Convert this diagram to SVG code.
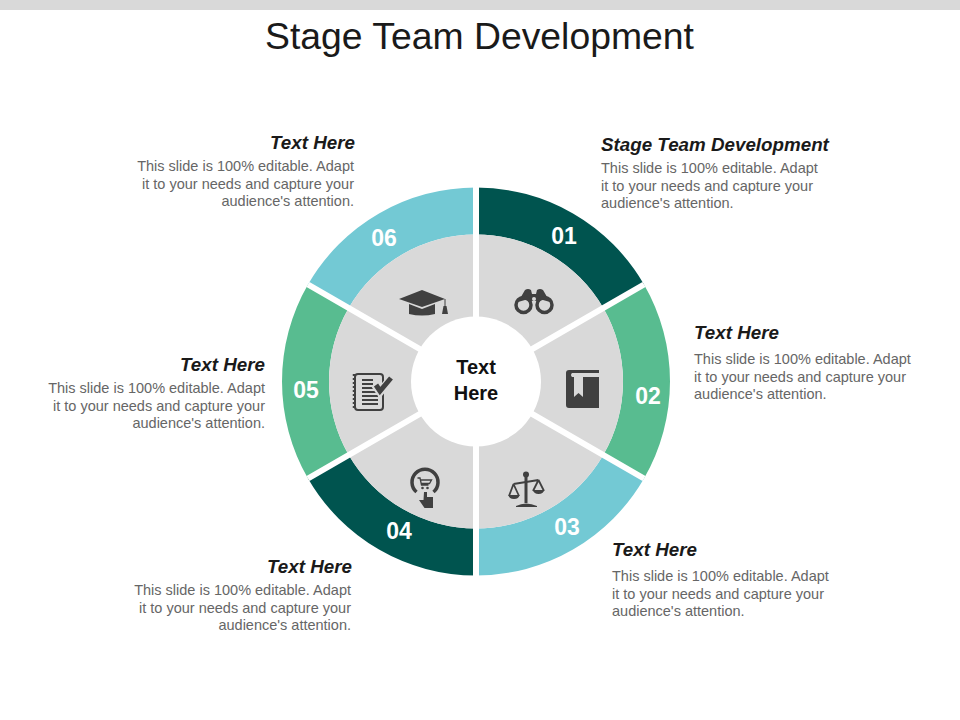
<svg xmlns="http://www.w3.org/2000/svg" width="960" height="720" viewBox="0 0 960 720">
<style>
text{font-family:"Liberation Sans",Arial,sans-serif}
.h{font-size:18.800px;font-weight:bold;font-style:italic;fill:#1a1a1a}
.b{font-size:14.500px;fill:#666}
.n{font-size:23px;font-weight:bold;fill:#fff;text-anchor:middle}
.c{font-size:20px;font-weight:bold;fill:#111;text-anchor:middle}
.e{text-anchor:end}
.g{fill:#d9d9d9}
.i{fill:#404040}
.s{fill:none;stroke:#404040}
.d1{fill:#00544f}.d2{fill:#58bc90}.d3{fill:#73c9d4}
</style>
<rect width="960" height="10" fill="#d9d9d9"/>
<text id="title" x="479.500" y="49" font-size="37.350" text-anchor="middle" fill="#1a1a1a">Stage Team Development</text>

<g id="node-01">
<path class="d1" d="M476 187.500A194 194 0 0 1 644 284.500L603.300 308A147 147 0 0 0 476 234.500Z"/>
<path class="g" d="M476 234.500A147 147 0 0 1 603.300 308L476 381.500Z"/>
<text class="n" x="564" y="244">01</text>
<g transform="translate(534 302)">
<path class="i" d="M-16 0L-9 -12Q-6 -14 -3 -12L-2 -8H2L3 -12Q6 -14 9 -12L16 0L9 -2L2 -1H-2L-9 -2Z"/>
<circle class="s" cx="-10.500" cy="3" r="7.500" stroke-width="3.500" fill="#d9d9d9"/><circle class="s" cx="10.500" cy="3" r="7.500" stroke-width="3.500" fill="#d9d9d9"/>
<circle cx="0" cy="-3" r="2" fill="#d9d9d9"/>
</g>
<text class="h" x="601" y="151">Stage Team Development</text>
<text class="b" x="601" y="173">This slide is 100% editable. Adapt</text>
<text class="b" x="601" y="190.500">it to your needs and capture your</text>
<text class="b" x="601" y="208">audience's attention.</text>
</g>

<g id="node-02">
<path class="d2" d="M644 284.500A194 194 0 0 1 644 478.500L603.300 455A147 147 0 0 0 603.300 308Z"/>
<path class="g" d="M603.300 308A147 147 0 0 1 603.300 455L476 381.500Z"/>
<text class="n" x="648" y="404">02</text>
<path class="i" fill-rule="evenodd" d="M569 370H599V408H569Q566 408 566 405V373Q566 370 569 370ZM572 373Q570 375 572 377H574V397L578.500 393L583 397V377H599V373Z"/>
<text class="h" x="694" y="339">Text Here</text>
<text class="b" x="694" y="364">This slide is 100% editable. Adapt</text>
<text class="b" x="694" y="382">it to your needs and capture your</text>
<text class="b" x="694" y="399">audience's attention.</text>
</g>

<g id="node-03">
<path class="d3" d="M644 478.500A194 194 0 0 1 476 575.500L476 528.500A147 147 0 0 0 603.300 455Z"/>
<path class="g" d="M603.300 455A147 147 0 0 1 476 528.500L476 381.500Z"/>
<text class="n" x="567" y="535">03</text>
<g transform="translate(526 490)">
<circle class="i" cx="0" cy="-15.500" r="3"/>
<path class="s" stroke-width="1.800" d="M-12.500 -6L12.500 -10M-12.500 -6L-17 6M-12.500 -6L-7 6M12.500 -10L7 1M12.500 -10L18 1"/>
<path class="i" d="M-1.500 -13H1.500V13H-1.500ZM-10 16Q0 11 11 16V17H-10ZM-17.500 5H-6.500Q-7 9 -12 9Q-17 9 -17.500 5ZM7 0H18Q17.500 4 12.500 4Q8 4 7 0Z"/>
</g>
<text class="h" x="612" y="556">Text Here</text>
<text class="b" x="612" y="581">This slide is 100% editable. Adapt</text>
<text class="b" x="612" y="599">it to your needs and capture your</text>
<text class="b" x="612" y="616">audience's attention.</text>
</g>

<g id="node-04">
<path class="d1" d="M476 575.500A194 194 0 0 1 308 478.500L348.700 455A147 147 0 0 0 476 528.500Z"/>
<path class="g" d="M476 528.500A147 147 0 0 1 348.700 455L476 381.500Z"/>
<text class="n" x="399" y="539">04</text>
<g transform="translate(424.500 482)">
<path class="s" stroke-width="3.500" d="M-8 10A13 13 0 1 1 9 10"/>
<path class="s" stroke-width="1.300" d="M-7 -4H-4.500L-3 3H4M-4 -2H7L5 1.500H-3"/>
<circle class="i" cx="-2" cy="6" r="1.300"/><circle class="i" cx="3" cy="6" r="1.300"/>
<path class="i" d="M-0.500 10H2.500V15H8.500V26H0L-5.500 18L-1 18Z"/>
</g>
<text class="h e" x="352" y="573">Text Here</text>
<text class="b e" x="351" y="595">This slide is 100% editable. Adapt</text>
<text class="b e" x="351" y="613">it to your needs and capture your</text>
<text class="b e" x="351" y="630">audience's attention.</text>
</g>

<g id="node-05">
<path class="d2" d="M308 478.500A194 194 0 0 1 308 284.500L348.700 308A147 147 0 0 0 348.700 455Z"/>
<path class="g" d="M348.700 455A147 147 0 0 1 348.700 308L476 381.500Z"/>
<text class="n" x="306" y="398">05</text>
<g transform="translate(370 392)">
<rect class="s" x="-15" y="-18" width="28" height="36" rx="3" stroke-width="2"/>
<path class="s" stroke-width="1.800" d="M-8 -12H3M-8 -8H3M-8 -4H3M-8 0H7M-8 4H8M-8 8H8M-8 12H8"/>
<path class="s" stroke-width="2.500" stroke-dasharray="2 2" d="M-16 -18V18"/>
<path fill="none" stroke="#d9d9d9" stroke-width="8" d="M5 -7L10 0L22 -15"/>
<path class="s" stroke-width="5" d="M6 -7L10 -1L21 -14"/>
</g>
<text class="h e" x="265" y="371">Text Here</text>
<text class="b e" x="265" y="393">This slide is 100% editable. Adapt</text>
<text class="b e" x="265" y="410.500">it to your needs and capture your</text>
<text class="b e" x="265" y="428">audience's attention.</text>
</g>

<g id="node-06">
<path class="d3" d="M308 284.500A194 194 0 0 1 476 187.500L476 234.500A147 147 0 0 0 348.700 308Z"/>
<path class="g" d="M348.700 308A147 147 0 0 1 476 234.500L476 381.500Z"/>
<text class="n" x="384" y="246">06</text>
<g transform="translate(422 303)">
<path class="i" d="M0 -13L23 -4L0 4L-23 -4ZM-13 1L0 6L13 1V11Q0 14 -13 11Z"/>
<path class="s" stroke-width="1" d="M23 -4V4"/>
<path class="i" d="M21.500 3H24.500L26 11H20Z"/>
</g>
<text class="h e" x="355" y="149">Text Here</text>
<text class="b e" x="354" y="171">This slide is 100% editable. Adapt</text>
<text class="b e" x="354" y="188.500">it to your needs and capture your</text>
<text class="b e" x="354" y="206">audience's attention.</text>
</g>

<g id="connectors" stroke="#fff" stroke-width="6" fill="none">
<path d="M476 180V583M644 284.500L308 478.500M644 478.500L308 284.500"/>
</g>
<g id="center">
<circle cx="476" cy="381.500" r="65" fill="#fff"/>
<text class="c" x="476" y="374">Text</text>
<text class="c" x="476" y="400">Here</text>
</g>
</svg>
